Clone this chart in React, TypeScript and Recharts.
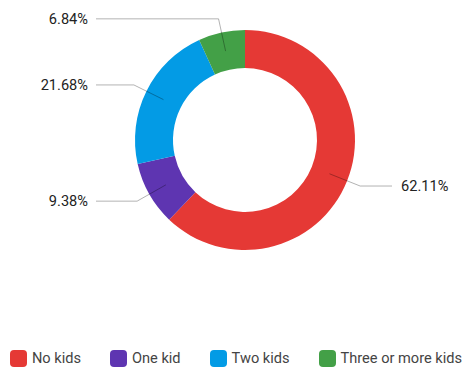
import React from 'react';
import { PieChart, Pie, Cell, Legend } from 'recharts';

const categories = ['No kids', 'One kid', 'Two kids', 'Three or more kids'];
const shares = [62.11, 9.38, 21.68, 6.84];
const COLORS = ['#E53935', '#5E35B1', '#039BE5', '#43A047'];

const data = categories.map((name, i) => ({ name, value: shares[i] }));

if (typeof document !== 'undefined') {
  document.body.style.margin = '0';
}

const RADIAN = Math.PI / 180;

const renderLabel = (props: any) => {
  const { cx, cy, midAngle, innerRadius, outerRadius, value } = props;
  const cos = Math.cos(-midAngle * RADIAN);
  const sin = Math.sin(-midAngle * RADIAN);
  const r0 = (innerRadius + outerRadius) / 2;
  const r1 = outerRadius + 14;
  const sx = cx + r0 * cos;
  const sy = cy + r0 * sin;
  const mx = cx + r1 * cos;
  const my = cy + r1 * sin;
  const right = cos >= 0;
  const ex = right ? 392 : 96;
  const tx = right ? 401 : 88;
  return (
    <g>
      <path
        d={`M${sx},${sy}L${mx},${my}L${ex},${my}`}
        stroke="rgba(0,0,0,0.3)"
        fill="none"
      />
      <text
        x={tx}
        y={my}
        textAnchor={right ? 'start' : 'end'}
        dominantBaseline="central"
        fill="#222"
        fontSize={14.6}
      >
        {`${value.toFixed(2)}%`}
      </text>
    </g>
  );
};

const renderLegend = () => (
  <div
    style={{
      display: 'flex',
      justifyContent: 'center',
      gap: 29,
      fontSize: 14.6,
      color: '#444',
      paddingLeft: 8,
    }}
  >
    {categories.map((name, i) => (
      <div key={name} style={{ display: 'flex', alignItems: 'center' }}>
        <span
          style={{
            width: 17,
            height: 17,
            borderRadius: 4,
            background: COLORS[i],
            marginRight: 5,
            display: 'inline-block',
          }}
        />
        {name}
      </div>
    ))}
  </div>
);

export default function App() {
  return (
    <div style={{ width: 464, height: 371, fontFamily: 'Roboto, sans-serif', background: '#fff' }}>
      <PieChart width={464} height={371} margin={{ top: 0, right: 0, bottom: 0, left: 0 }}>
        <Pie
          data={data}
          dataKey="value"
          nameKey="name"
          cx={245}
          cy={140}
          innerRadius={72}
          outerRadius={110}
          startAngle={90}
          endAngle={-270}
          stroke="none"
          label={renderLabel}
          labelLine={false}
          isAnimationActive={false}
        >
          {data.map((entry, i) => (
            <Cell key={entry.name} fill={COLORS[i]} />
          ))}
        </Pie>
        <Legend
          verticalAlign="bottom"
          content={renderLegend}
          wrapperStyle={{ bottom: 4 }}
        />
      </PieChart>
    </div>
  );
}
